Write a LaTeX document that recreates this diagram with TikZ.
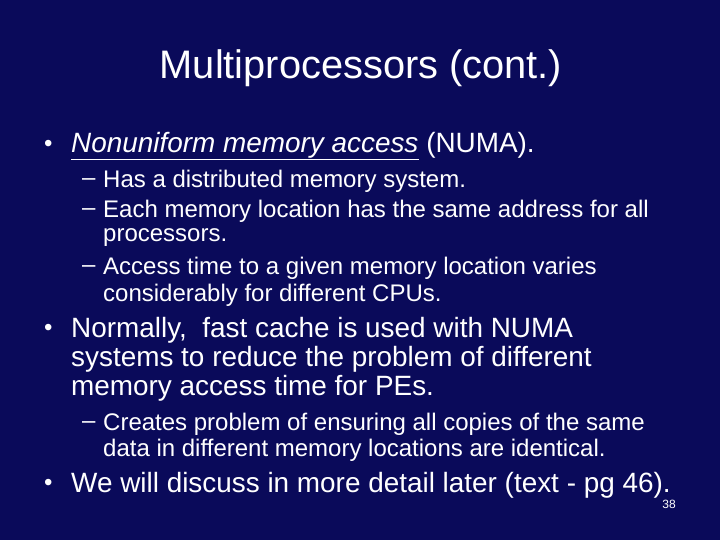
\documentclass[tikz,border=0pt]{standalone}
\usepackage{fontspec}
\setmainfont{Liberation Sans}
\usetikzlibrary{positioning}
\definecolor{slidebg}{RGB}{10,10,90}

\begin{document}
\begin{tikzpicture}[x=1pt,y=-1pt,
    line1/.style={anchor=west, inner sep=0pt, text=white, font=\fontsize{27.9}{27.9}\selectfont},
    line2/.style={anchor=west, inner sep=0pt, text=white, font=\fontsize{24}{24}\selectfont},
    mark1/.style={anchor=west, inner sep=0pt, text=white, font=\fontsize{24}{24}\selectfont},
    mark2/.style={anchor=west, inner sep=0pt, text=white, font=\fontsize{24}{24}\selectfont}]

        % background of the slide
        \fill[slidebg] (0,0) rectangle (720,540);
        \useasboundingbox (0,0) rectangle (720,540);

        \node[text=white, font=\fontsize{39.8}{39.8}\selectfont] (title) at (361,68)
        {Multiprocessors (cont.)};

        % first bullet and its sub points
        \node[mark1] (m1) at (44,146) {\textbullet};
        \node[line1] (b1) at (71,146)
        {\underline{\textit{Nonuniform memory access}} (NUMA).};
        \node[mark2] (d1) at (82,182) {\textendash};
        \node[line2] (s1) at (103,181) {Has a distributed memory system.};
        \node[mark2] (d2) at (82,212) {\textendash};
        \node[line2] (s2) at (103,211) {Each memory location has the same address for all};
        \node[line2] (s2b) at (103,238) {processors.};
        \node[mark2] (d3) at (82,269) {\textendash};
        \node[line2] (s3) at (103,268) {Access time to a given memory location varies};
        \node[line2] (s3b) at (103,295) {considerably for different CPUs.};

        % second bullet
        \node[mark1] (m2) at (44,330) {\textbullet};
        \node[line1] (b2) at (71,330) {Normally,\ \ fast cache is used with NUMA};
        \node[line1] (b2b) at (71,359) {systems to reduce the problem of different};
        \node[line1] (b2c) at (71,388) {memory access time for PEs.};
        \node[mark2] (d4) at (82,425) {\textendash};
        \node[line2] (s4) at (103,424) {Creates problem of ensuring all copies of the same};
        \node[line2] (s4b) at (103,450) {data in different memory locations are identical.};

        % third bullet
        \node[mark1] (m3) at (44,485) {\textbullet};
        \node[line1] (b3) at (71,485)
        {We will discuss in more detail later (text - pg 46).};

        \node[text=white, font=\fontsize{12}{12}\selectfont, inner sep=0pt] (pg) at (669,504) {38};

\end{tikzpicture}
\end{document}
